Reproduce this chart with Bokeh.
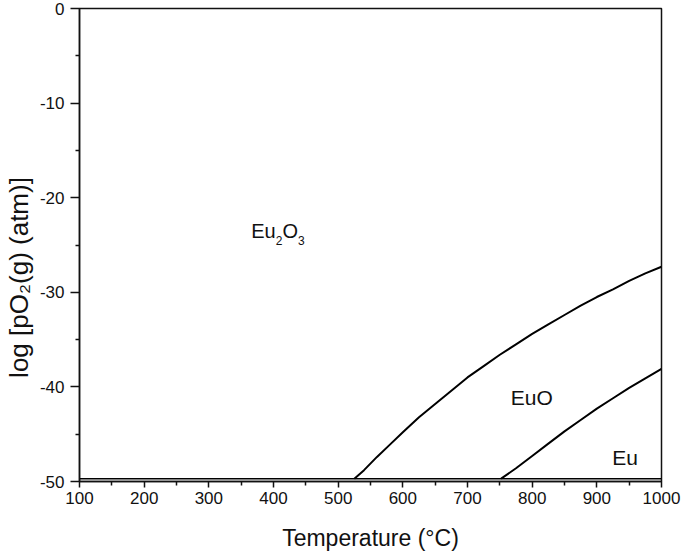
import math
from bokeh.plotting import figure
from bokeh.models import Range1d, FixedTicker, Label, PrintfTickFormatter
from bokeh.core.properties import value
from bokeh.embed import file_html
from bokeh.resources import INLINE

# ---- data ----
temp_eu2o3_euo = [525, 540, 560, 580, 600, 625, 650, 675, 700, 725, 750,
                  775, 800, 825, 850, 875, 900, 925, 950, 975, 1000]
logp_eu2o3_euo = [-49.7, -48.8, -47.4, -46.1, -44.8, -43.2, -41.8, -40.4, -39.0, -37.8, -36.6,
                  -35.5, -34.4, -33.4, -32.4, -31.4, -30.5, -29.7, -28.8, -28.0, -27.3]
temp_euo_eu = [752, 775, 800, 825, 850, 875, 900, 925, 950, 975, 1000]
logp_euo_eu = [-49.7, -48.6, -47.3, -46.0, -44.7, -43.5, -42.3, -41.2, -40.1, -39.1, -38.1]
temp_floor = [100, 1000]
logp_floor = [-49.7, -49.7]

x_ticks = [100, 200, 300, 400, 500, 600, 700, 800, 900, 1000]
x_minor = [150, 250, 350, 450, 550, 650, 750, 850, 950]
y_ticks = [0, -10, -20, -30, -40, -50]
y_minor = [-5, -15, -25, -35, -45]

FONT = "Liberation Sans"

p = figure(frame_width=582, frame_height=473,
           x_range=Range1d(100, 1000), y_range=Range1d(-50, 0),
           output_backend="svg", toolbar_location=None,
           min_border_left=79, min_border_right=22,
           min_border_top=8, min_border_bottom=70)

p.background_fill_color = "white"
p.border_fill_color = "white"
p.xgrid.visible = False
p.ygrid.visible = False
p.outline_line_color = "#111111"
p.outline_line_width = 1.5

# axes
p.xaxis.ticker = FixedTicker(ticks=x_ticks, minor_ticks=x_minor)
p.yaxis.ticker = FixedTicker(ticks=y_ticks, minor_ticks=y_minor)
for ax in (p.xaxis[0], p.yaxis[0]):
    ax.formatter = PrintfTickFormatter(format="%d")
    ax.axis_line_color = "#111111"
    ax.axis_line_width = 1.5
    ax.major_tick_line_color = "#111111"
    ax.minor_tick_line_color = "#111111"
    ax.major_tick_line_width = 1.5
    ax.minor_tick_line_width = 1.5
    ax.major_tick_in = 0
    ax.minor_tick_in = 0
    ax.major_label_text_font = FONT
    ax.major_label_text_font_size = "17px"
    ax.major_label_text_color = "#111111"
    ax.axis_label_text_font = FONT
    ax.axis_label_text_font_style = "normal"
    ax.axis_label_text_color = "#111111"

p.xaxis.major_tick_out = 6
p.xaxis.minor_tick_out = 4
p.xaxis.major_label_standoff = 4
p.xaxis.axis_label = "Temperature (°C)"
p.xaxis.axis_label_text_font_size = "23px"
p.xaxis.axis_label_standoff = 18

p.yaxis.major_tick_out = 9
p.yaxis.minor_tick_out = 4
p.yaxis.major_label_standoff = 6
# trailing no-break spaces push the (centred) title a little below the frame centre,
# as it sits in the reference
p.yaxis.axis_label = "log [pO\u2082(g) (atm)]" + "\u00a0" * 9
p.yaxis.axis_label_text_font_size = "26px"
p.yaxis.axis_label_standoff = 3

# curves
p.line(temp_floor, logp_floor, line_color="black", line_width=1.5)
p.line(temp_eu2o3_euo, logp_eu2o3_euo, line_color="black", line_width=2)
p.line(temp_euo_eu, logp_euo_eu, line_color="black", line_width=2)

# phase labels
def lab(x, y, t, size, dx=0):
    p.add_layout(Label(x=x, y=y, text=t, x_offset=dx,
                       text_font=FONT, text_font_size=size,
                       text_color="#111111", text_baseline="alphabetic",
                       text_align="left"))

lab(365.5, -23.5, "Eu", "20px")
lab(365.5, -24.5, "2", "12px", dx=24.5)
lab(365.5, -23.5, "O", "20px", dx=31.2)
lab(365.5, -24.5, "3", "12px", dx=46.8)
lab(767, -41.1, "EuO", "21px")
lab(924, -47.5, "Eu", "21px")

open("out.html", "w").write(file_html(p, INLINE))
